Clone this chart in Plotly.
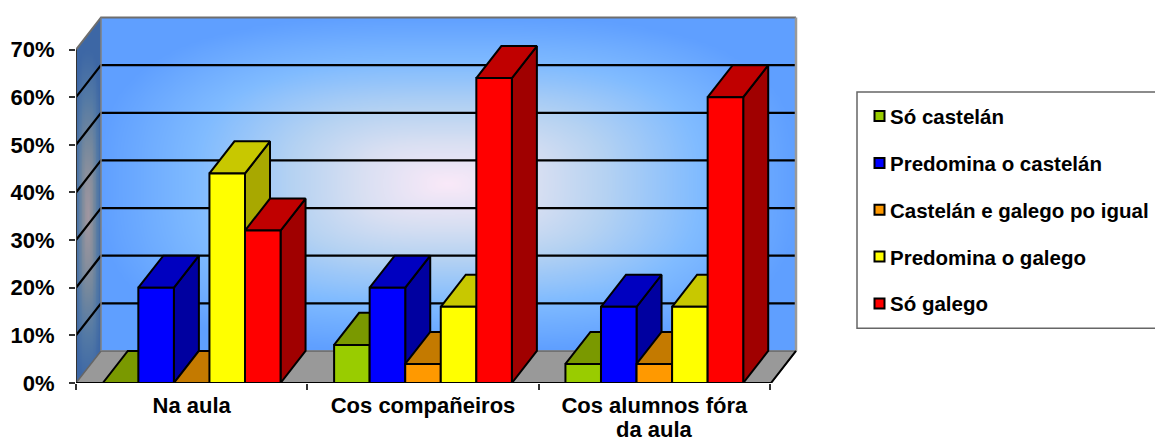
import numpy as np
import plotly.graph_objects as go

# Survey shares by setting, percent
categories = ["Na aula", "Cos compañeiros", "Cos alumnos fóra<br>da aula"]
series_names = ["Só castelán", "Predomina o castelán", "Castelán e galego po igual",
                "Predomina o galego", "Só galego"]
so_castelan = [0, 8, 4]
predomina_castelan = [20, 20, 16]
igual = [0, 4, 4]
predomina_galego = [44, 16, 16]
so_galego = [32, 64, 60]
series_values = [so_castelan, predomina_castelan, igual, predomina_galego, so_galego]
y_ticks = [0, 10, 20, 30, 40, 50, 60, 70]

front_colors = ["#99CC00", "#0000FF", "#FF9900", "#FFFF00", "#FF0000"]
top_colors = ["#7A9900", "#0000C0", "#C47A00", "#C8C800", "#C00000"]
side_colors = ["#6A8500", "#0000A0", "#A86800", "#A8A800", "#A00000"]

# Page geometry of the plot area
W, H = 1155, 442
LEFT, RIGHT, TOP, BOTTOM = 76.0, 800.0, 12.0, 382.7
PX_PER_CAT = 231.33
PX_PER_UNIT = 4.76

X_MAX = (RIGHT - LEFT) / PX_PER_CAT
Y_MAX = (BOTTOM - TOP) / PX_PER_UNIT

# Oblique projection of the chart depth, in axis units
DX = 25 / PX_PER_CAT
DY = 32 / PX_PER_UNIT
WALL_X = 720 / PX_PER_CAT
BAR_W = 0.1537
GROUP_GAP = (1 - 5 * BAR_W) / 2

stops = [0, 0.25, 0.45, 0.72, 1]
wall_rgb = [(250, 233, 248), (216, 223, 242), (181, 210, 242), (128, 187, 255), (95, 159, 255)]


def scale_for(factor):
    return [[s, "rgb(%d,%d,%d)" % tuple(int(c * factor) for c in rgb)] for s, rgb in zip(stops, wall_rgb)]


def midpoints(edges):
    return (edges[:-1] + edges[1:]) / 2


def soft_box(a, b, p=3.0):
    # Rounded-rectangle distance from the gradient centre, 1 at the wall edge
    return np.clip((np.abs(a[None, :]) ** p + np.abs(b[:, None]) ** p) ** (1 / p), 0, 1)


fig = go.Figure()

# Back wall gradient
bx = np.linspace(DX, WALL_X, 121)
by = np.linspace(DY, 70 + DY, 81)
cx, cy = (448 - LEFT) / PX_PER_CAT, (BOTTOM - 183) / PX_PER_UNIT
u = (midpoints(bx) - cx) / (348 / PX_PER_CAT)
v = (midpoints(by) - cy) / (167 / PX_PER_UNIT)
z_back = soft_box(u, v)

# Side wall gradient, a darker copy of the same ramp
sx = np.linspace(0, DX, 17)
sy = np.linspace(0, 70 + DY, 61)
su = (midpoints(sx) - DX * 0.46) / (DX * 0.54)
sv = (midpoints(sy) - 35) / 35
z_side = soft_box(su, sv)

fig.add_trace(go.Heatmap(x=sx, y=sy, z=z_side, zmin=0, zmax=1, zsmooth="best",
                         colorscale=scale_for(0.65), showscale=False, hoverinfo="skip"))
fig.add_trace(go.Heatmap(x=bx, y=by, z=z_back, zmin=0, zmax=1, zsmooth="best",
                         colorscale=scale_for(1.0), showscale=False, hoverinfo="skip"))


def poly(xs, ys, fill, line="#000000", width=2.0):
    fig.add_trace(go.Scatter(x=xs + xs[:1], y=ys + ys[:1], mode="lines", fill="toself",
                             fillcolor=fill, line=dict(color=line, width=width),
                             showlegend=False, hoverinfo="skip", cliponaxis=False))


def path(xs, ys, color="#000000", width=2.0):
    fig.add_trace(go.Scatter(x=xs, y=ys, mode="lines", line=dict(color=color, width=width),
                             showlegend=False, hoverinfo="skip", cliponaxis=False))


# White corner above the side wall
poly([0, DX, DX, 0], [70, 70 + DY, Y_MAX, Y_MAX], "#FFFFFF", line="#FFFFFF", width=0)

# Floor
poly([0, DX, WALL_X, WALL_X - DX], [0, DY, DY, 0], "#999999", line="#666666", width=1.5)

# Gridlines across side and back walls
for val in y_ticks[1:-1]:
    path([0, DX, WALL_X], [val, val + DY, val + DY], width=2.2)

# Wall outlines
path([0, DX, WALL_X], [70, 70 + DY, 70 + DY], color="#6E6E6E", width=2)
path([DX, DX], [DY, 70 + DY], color="#808080", width=1.5)
path([WALL_X, WALL_X], [DY, 70 + DY], color="#999999", width=2.5)
path([0, 0], [0, 70], color="#333333", width=2)
path([0, WALL_X - DX, WALL_X], [0, 0, DY], width=2)

# Bars, drawn left to right so each one hides its neighbour's side face
for c in range(len(categories)):
    for s, values in enumerate(series_values):
        val = values[c]
        x0 = c + GROUP_GAP + s * BAR_W
        x1 = x0 + BAR_W
        poly([x1, x1 + DX, x1 + DX, x1], [0, DY, val + DY, val], side_colors[s])
        poly([x0, x1, x1 + DX, x0 + DX], [val, val, val + DY, val + DY], top_colors[s])
        poly([x0, x1, x1, x0], [0, 0, val, val], front_colors[s])


def paper_x(px):
    return (px - LEFT) / (RIGHT - LEFT)


def paper_y(px):
    return (BOTTOM - px) / (BOTTOM - TOP)


# Legend panel, running off the right of the page
shapes = [dict(type="rect", xref="paper", yref="paper",
               x0=paper_x(857), x1=paper_x(1170), y0=paper_y(328), y1=paper_y(92),
               line=dict(color="#666666", width=1.5), fillcolor="#FFFFFF")]
annotations = []
for i, name in enumerate(series_names):
    top = 111 + 46.8 * i
    shapes.append(dict(type="rect", xref="paper", yref="paper",
                       x0=paper_x(874.5), x1=paper_x(884.5), y0=paper_y(top + 10), y1=paper_y(top),
                       line=dict(color="#000000", width=2), fillcolor=front_colors[i]))
    annotations.append(dict(text=name, xref="paper", yref="paper", x=paper_x(889), y=paper_y(top + 5.5),
                            xanchor="left", yanchor="middle", showarrow=False, borderpad=0,
                            font=dict(family="Liberation Sans", size=20.5, color="#000000", weight="bold")))

# Category labels: first lines sit on the axis, wrapped remainders just below
first_lines = [c.split("<br>")[0] for c in categories]
for c, cat in enumerate(categories):
    for extra in cat.split("<br>")[1:]:
        annotations.append(dict(text=extra, x=c + 0.5, y=paper_y(429), xref="x", yref="paper",
                                xanchor="center", yanchor="middle", showarrow=False, borderpad=0,
                                font=dict(family="Liberation Sans", size=22, color="#000000", weight="bold")))

fig.update_layout(
    width=W, height=H, autosize=False,
    margin=dict(l=LEFT, r=W - RIGHT, t=TOP, b=H - BOTTOM, autoexpand=False),
    paper_bgcolor="#FFFFFF", plot_bgcolor="#FFFFFF",
    showlegend=False, shapes=shapes, annotations=annotations,
    font=dict(family="Liberation Sans", color="#000000"),
    xaxis=dict(range=[0, X_MAX], showgrid=False, zeroline=False, showline=False,
               tickmode="array", tickvals=[0.5, 1.5, 2.5], ticktext=first_lines,
               ticks="", ticklabelstandoff=7, tickangle=0,
               tickfont=dict(size=22, family="Liberation Sans", weight="bold"),
               minor=dict(tickmode="array", tickvals=[0, 1, 2, 3], ticks="outside",
                          ticklen=6, tickwidth=1.5, tickcolor="#333333", showgrid=False)),
    yaxis=dict(range=[0, Y_MAX], showgrid=False, zeroline=False, showline=False,
               tickmode="array", tickvals=y_ticks, ticktext=["%d%%" % t for t in y_ticks],
               ticks="outside", ticklen=6, tickwidth=1.5, tickcolor="#333333",
               ticklabelstandoff=10,
               tickfont=dict(size=22, family="Liberation Sans", weight="bold")),
)

fig.write_html("out.html")
